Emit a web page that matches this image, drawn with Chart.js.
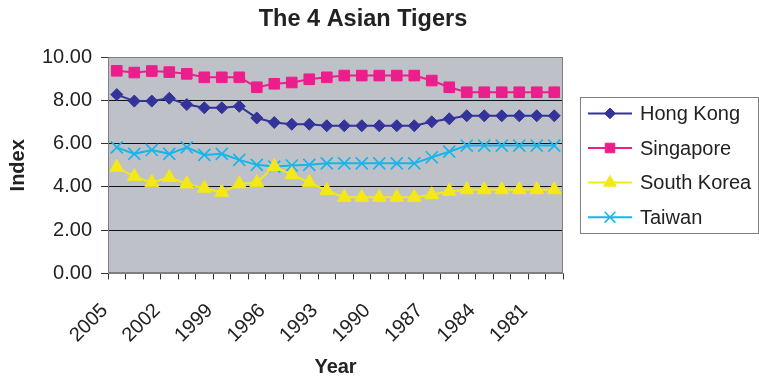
<!DOCTYPE html>
<html>
<head>
<meta charset="utf-8">
<script src="https://cdn.jsdelivr.net/npm/chart.js@4"></script>
<style>
html,body{margin:0;padding:0;background:#fff;}
#wrap{width:759px;height:377px;}
</style>
</head>
<body>
<div id="wrap"><canvas id="c" width="759" height="377"></canvas></div>
<script>
const years = [2005,2004,2003,2002,2001,2000,1999,1998,1997,1996,1995,1994,1993,1992,1991,1990,1989,1988,1987,1986,1985,1984,1983,1982,1981,1980];
const hongKong = [8.27,7.97,7.97,8.10,7.81,7.66,7.66,7.73,7.19,6.98,6.90,6.90,6.83,6.83,6.83,6.83,6.83,6.83,7.01,7.15,7.29,7.29,7.29,7.29,7.29,7.29];
const singapore = [9.37,9.29,9.36,9.31,9.23,9.07,9.07,9.07,8.61,8.77,8.83,8.98,9.07,9.15,9.15,9.15,9.15,9.15,8.92,8.61,8.38,8.38,8.38,8.38,8.38,8.38];
const southKorea = [4.91,4.48,4.21,4.44,4.14,3.94,3.75,4.14,4.20,4.95,4.57,4.21,3.83,3.52,3.52,3.52,3.52,3.52,3.64,3.80,3.87,3.87,3.87,3.87,3.87,3.87];
const taiwan = [5.83,5.53,5.71,5.53,5.83,5.48,5.53,5.25,5.02,4.94,4.99,5.02,5.09,5.09,5.09,5.09,5.09,5.09,5.37,5.63,5.91,5.91,5.91,5.91,5.91,5.91];
const yTicks = [0,2,4,6,8,10];
const seriesNames = ['Hong Kong','Singapore','South Korea','Taiwan'];

const FONT = "'Liberation Sans', Arial, sans-serif";
Chart.defaults.font.family = FONT;
Chart.defaults.color = '#222';

const styles = [
  {color:'#333399', pointStyle:'rectRot', radius:6},
  {color:'#EC1E8C', pointStyle:'rect', radius:7.5},
  {color:'#F4E816', pointStyle:'triangle', radius:8},
  {color:'#16B6EA', pointStyle:'crossRot', radius:8.5}
];
const seriesData = [hongKong, singapore, southKorea, taiwan];

const datasets = seriesData.map((d,i)=>({
  label: seriesNames[i],
  data: d,
  borderColor: styles[i].color,
  backgroundColor: styles[i].color,
  pointBackgroundColor: styles[i].color,
  pointBorderColor: styles[i].color,
  pointStyle: styles[i].pointStyle,
  pointRadius: styles[i].radius,
  pointBorderWidth: styles[i].pointStyle==='crossRot' ? 1.6 : 1,
  borderWidth: 2,
  tension: 0,
  fill: false
}));

const plotBg = {
  id:'plotBg',
  beforeDraw(chart){
    const {ctx, chartArea:a} = chart;
    ctx.save();
    ctx.fillStyle = '#BFC1C9';
    ctx.fillRect(a.left, a.top, a.right-a.left, a.bottom-a.top);
    ctx.restore();
  },
  afterDatasetsDraw(chart){
    const {ctx, chartArea:a} = chart;
    ctx.save();
    ctx.strokeStyle = '#7f7f7f';
    ctx.lineWidth = 1;
    ctx.strokeRect(Math.round(a.left)+0.5, Math.round(a.top)+0.5, Math.round(a.right-a.left)-1, Math.round(a.bottom-a.top)-1);
    ctx.restore();
  }
};

const titleShift = {
  id:'titleShift',
  afterLayout(chart){
    const t = chart.titleBlock;
    if (t){ t.left = 0; t.right = 726; }
  }
};

const customLegend = {
  id:'customLegend',
  afterDraw(chart){
    const {ctx, chartArea:a} = chart;
    const cy = (a.top + a.bottom)/2;
    const boxL = a.right + 17, boxR = 758, boxT = cy - 68, boxB = cy + 68;
    ctx.save();
    ctx.strokeStyle = '#7f7f7f';
    ctx.lineWidth = 1;
    ctx.strokeRect(Math.round(boxL)+0.5, Math.round(boxT)+0.5, Math.round(boxR-boxL), Math.round(boxB-boxT));
    chart.data.datasets.forEach((ds,i)=>{
      const y = cy + (i-1.5)*34.6;
      const x0 = boxL + 8, x1 = x0 + 44;
      ctx.strokeStyle = ds.borderColor;
      ctx.lineWidth = 2;
      ctx.beginPath(); ctx.moveTo(x0, y); ctx.lineTo(x1, y); ctx.stroke();
      ctx.fillStyle = ds.pointBackgroundColor;
      ctx.strokeStyle = ds.pointBorderColor;
      ctx.lineWidth = ds.pointBorderWidth;
      Chart.helpers.drawPoint(ctx, {pointStyle: ds.pointStyle, radius: ds.pointRadius*0.9, borderWidth: ds.pointBorderWidth, rotation:0}, (x0+x1)/2, y);
      ctx.fillStyle = '#222';
      ctx.font = "20px " + FONT;
      ctx.textBaseline = 'middle';
      ctx.textAlign = 'left';
      ctx.fillText(ds.label, x1 + 8, y + 1);
    });
    ctx.restore();
  }
};

new Chart(document.getElementById('c'), {
  type:'line',
  data:{ labels: years.map(String), datasets },
  plugins:[plotBg, titleShift, customLegend],
  options:{
    responsive:false,
    animation:false,
    layout:{ padding:{ left:0, right:196, top:0, bottom:0 } },
    plugins:{
      legend:{ display:false },
      tooltip:{ enabled:false },
      title:{
        display:true,
        text:'The 4 Asian Tigers',
        font:{ size:23.5, weight:'bold', family:FONT },
        color:'#222',
        padding:{ top:5, bottom:24 }
      }
    },
    scales:{
      x:{
        type:'category',
        offset:true,
        grid:{ display:true, drawOnChartArea:false, drawTicks:true, tickLength:6, offset:true, color:'#333' },
        border:{ display:true, color:'#7f7f7f' },
        ticks:{
          autoSkip:false,
          maxRotation:45, minRotation:45,
          padding:21,
          labelOffset:-12,
          font:{ size:20, family:FONT, lineHeight:1 },
          color:'#222',
          callback(v, i){ return i % 3 === 0 ? this.getLabelForValue(v) : ''; }
        },
        title:{ display:true, text:'Year', font:{ size:20, weight:'bold', family:FONT, lineHeight:1 }, color:'#222', padding:{ top:-10, bottom:0 } }
      },
      y:{
        min:0, max:10,
        afterBuildTicks(scale){ scale.ticks = yTicks.map(v=>({value:v})); },
        grid:{
          color(ctx){ return (ctx.tick && (ctx.tick.value===0 || ctx.tick.value===10)) ? '#7f7f7f' : '#111'; },
          tickColor:'#333',
          tickLength:7,
          lineWidth:1
        },
        border:{ display:true, color:'#7f7f7f' },
        ticks:{
          padding:9,
          font:{ size:20, family:FONT },
          color:'#222',
          callback(v){ return Number(v).toFixed(2); }
        },
        title:{ display:true, text:'Index', font:{ size:20, weight:'bold', family:FONT }, color:'#222', padding:{ top:6, bottom:3 } }
      }
    }
  }
});
</script>
</body>
</html>
